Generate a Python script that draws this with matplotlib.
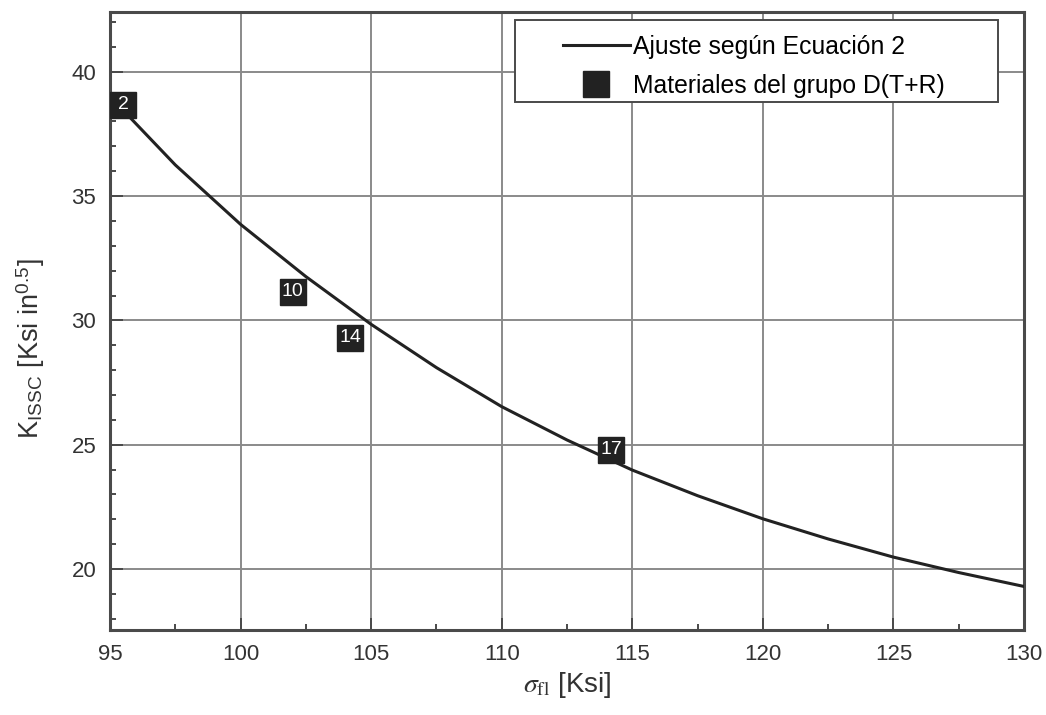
"""K_ISSC frente a sigma_fl para los materiales del grupo D(T+R)."""

import matplotlib

matplotlib.use("Agg")

import matplotlib.pyplot as plt
from matplotlib.patches import Rectangle
from matplotlib.ticker import MultipleLocator

# Curva de ajuste (Ecuación 2), leída cada 2.5 Ksi
FIT_SIGMA = [95.5, 97.5, 100.0, 102.5, 105.0, 107.5, 110.0, 112.5, 115.0,
             117.5, 120.0, 122.5, 125.0, 127.5, 130.0]
FIT_K = [38.45, 36.25, 33.86, 31.76, 29.84, 28.10, 26.53, 25.19, 23.98,
         22.95, 22.02, 21.21, 20.48, 19.86, 19.30]

# Materiales del grupo D(T+R)
MAT_ID = ["2", "10", "14", "17"]
MAT_SIGMA = [95.5, 102.0, 104.2, 114.2]
MAT_K = [38.67, 31.15, 29.3, 24.8]

INK = "#222222"
FRAME = "#4a4a4a"
GRID = "#8a8a8a"
TEXT = "#333333"

plt.rcParams.update({
    "font.family": ["Liberation Sans", "DejaVu Sans"],
    "mathtext.fontset": "stix",
})

fig = plt.figure(figsize=(10.46, 7.15), dpi=100)
ax = fig.add_axes([0.1052, 0.1189, 0.8738, 0.8643])

ax.plot(FIT_SIGMA, FIT_K, color=INK, lw=2.2, solid_joinstyle="round",
        label="Ajuste según Ecuación 2", zorder=3)
ax.plot(MAT_SIGMA, MAT_K, ls="none", marker="s", ms=19, mfc=INK, mec=INK,
        label="Materiales del grupo D(T+R)", zorder=4)
for name, sx, ky in zip(MAT_ID, MAT_SIGMA, MAT_K):
    ax.text(sx, ky, name, color="white", fontsize=14, ha="center",
            va="center", zorder=5)

ax.set_xlim(95, 130)
ax.set_ylim(17.55, 42.4)
ax.xaxis.set_major_locator(MultipleLocator(5))
ax.xaxis.set_minor_locator(MultipleLocator(2.5))
ax.yaxis.set_major_locator(MultipleLocator(5))
ax.yaxis.set_minor_locator(MultipleLocator(1))

ax.grid(which="major", color=GRID, lw=1.4)
ax.set_axisbelow(True)
for sp in ax.spines.values():
    sp.set_color(FRAME)
    sp.set_linewidth(2.2)

ax.tick_params(which="major", direction="in", length=9, width=1.4,
               color=FRAME, labelsize=16, labelcolor=TEXT, pad=10)
ax.tick_params(which="minor", direction="in", length=4, width=1.4,
               color=FRAME)

ax.set_xlabel(r"$\sigma_{\mathrm{fl}}$ [Ksi]", fontsize=20, color=TEXT,
              labelpad=4)
ax.set_ylabel(r"K$_{\mathregular{ISSC}}$ [Ksi in$^{\mathregular{0.5}}$]",
              fontsize=19.5, color=TEXT)
ax.yaxis.set_label_coords(-0.0685, 0.456)

# marco de la leyenda, algo más ancho que su contenido
ax.add_patch(Rectangle((0.4431, 0.8544), 0.5285, 0.1327,
                       transform=ax.transAxes, facecolor="white",
                       edgecolor=FRAME, lw=1.4, zorder=6))
leg = ax.legend(loc="upper left", bbox_to_anchor=(0.4956, 0.963),
                borderaxespad=0, borderpad=0, fontsize=17.8, frameon=False,
                handlelength=2.7, handletextpad=0.15, labelspacing=0.6,
                markerscale=1.0)
leg.set_zorder(7)

fig.savefig("out.png", dpi=100, facecolor="white")
